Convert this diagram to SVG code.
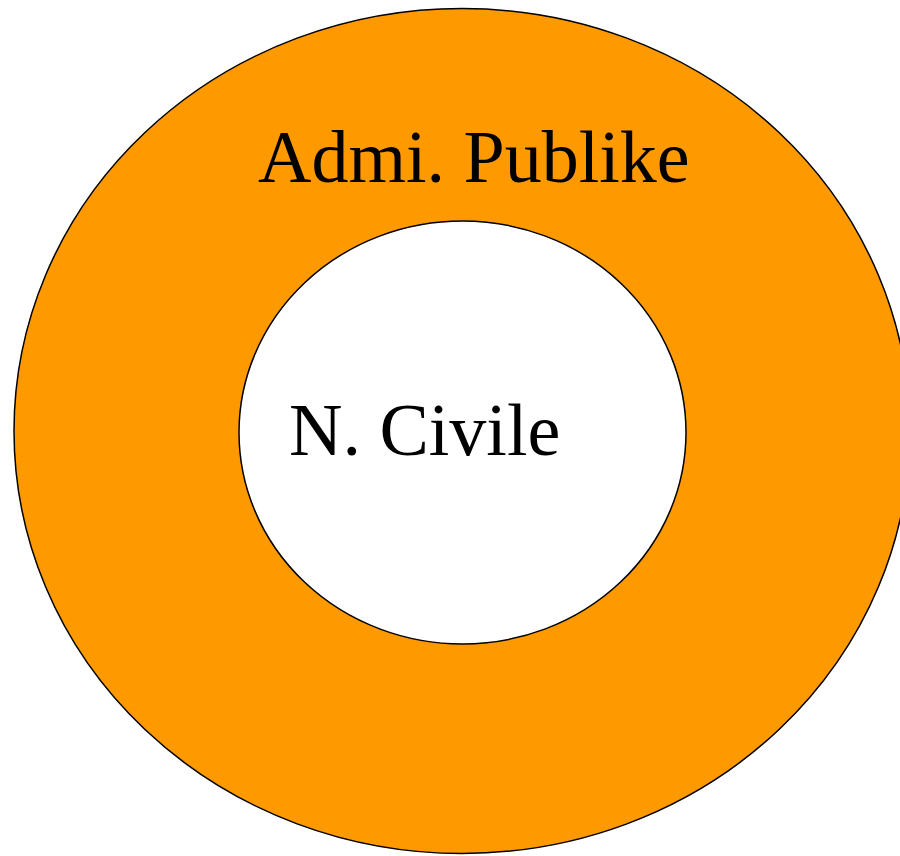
<svg xmlns="http://www.w3.org/2000/svg" width="900" height="856" viewBox="0 0 900 856">
<style>
.lbl{font-family:"Liberation Serif","Times New Roman",serif;font-size:74px;fill:#000}
</style>
<rect width="900" height="856" fill="#fff"/>
<g id="outer">
<ellipse cx="462" cy="431" rx="448" ry="422.5" fill="#ff9900" stroke="#000" stroke-width="1.5"/>
<text class="lbl" x="258" y="182">Admi. Publike</text>
</g>
<g id="inner">
<ellipse cx="462.5" cy="432.5" rx="223.5" ry="211.5" fill="#fff" stroke="#000" stroke-width="1.5"/>
<text class="lbl" x="289" y="455">N. Civile</text>
</g>
<g id="connectors"/>
</svg>
